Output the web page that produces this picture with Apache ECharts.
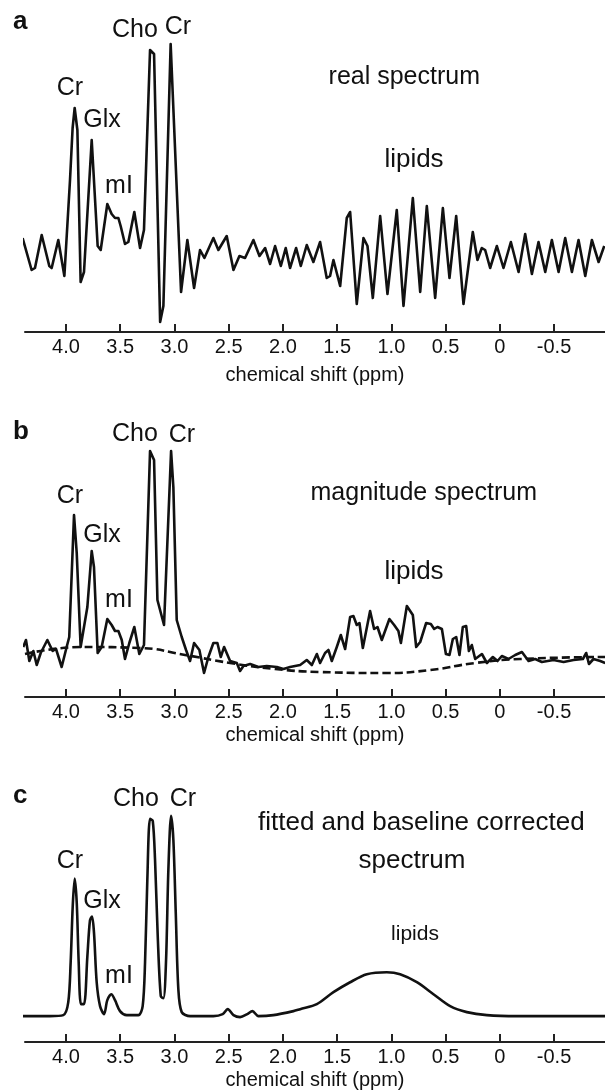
<!DOCTYPE html>
<html>
<head>
<meta charset="utf-8">
<script src="https://cdn.jsdelivr.net/npm/echarts@6/dist/echarts.min.js"></script>
<style>
  html, body { margin: 0; padding: 0; background: #fff; }
  #chart { width: 605px; height: 1091px; }
</style>
</head>
<body>
<div id="chart"></div>
<script>
// x axis: chemical shift (ppm), drawn high -> low
const tickValues = [4.0, 3.5, 3.0, 2.5, 2.0, 1.5, 1.0, 0.5, 0, -0.5];

// (a) real spectrum  [ppm, intensity]
const realSpectrum = [
  [4.400, 0.01], [4.317, -0.15], [4.286, -0.14], [4.224, 0.025], [4.154, -0.13], [4.132, -0.14],
  [4.071, 0.0], [4.015, -0.18], [3.963, 0.30], [3.939, 0.56], [3.920, 0.66], [3.895, 0.55],
  [3.865, -0.21], [3.834, -0.16], [3.763, 0.50], [3.708, -0.03], [3.680, -0.05], [3.619, 0.18],
  [3.579, 0.13], [3.548, 0.11], [3.517, 0.11], [3.496, 0.07], [3.456, -0.02], [3.425, -0.01],
  [3.370, 0.14], [3.317, -0.04], [3.281, 0.05], [3.225, 0.95], [3.188, 0.93], [3.132, -0.41],
  [3.102, -0.33], [3.035, 0.98], [2.939, -0.26], [2.881, 0.00], [2.819, -0.24], [2.764, -0.05],
  [2.724, -0.09], [2.641, 0.01], [2.595, -0.05], [2.518, 0.02], [2.456, -0.15], [2.401, -0.08],
  [2.349, -0.09], [2.272, 0.0], [2.216, -0.08], [2.164, -0.04], [2.118, -0.12], [2.072, -0.03],
  [2.019, -0.13], [1.974, -0.04], [1.934, -0.14], [1.878, -0.04], [1.835, -0.13], [1.780, -0.025],
  [1.719, -0.11], [1.657, -0.01], [1.596, -0.19], [1.565, -0.18], [1.534, -0.10], [1.472, -0.23],
  [1.411, 0.11], [1.380, 0.14], [1.319, -0.32], [1.257, 0.01], [1.220, -0.03], [1.171, -0.29],
  [1.103, 0.12], [1.036, -0.27], [0.950, 0.15], [0.888, -0.33], [0.802, 0.21], [0.734, -0.26],
  [0.673, 0.17], [0.596, -0.29], [0.525, 0.16], [0.464, -0.19], [0.402, 0.12], [0.335, -0.32],
  [0.249, 0.04], [0.206, -0.10], [0.166, -0.04], [0.135, -0.05], [0.089, -0.14], [0.027, -0.03],
  [-0.034, -0.14], [-0.102, -0.01], [-0.173, -0.16], [-0.234, 0.03], [-0.296, -0.17], [-0.357, -0.01],
  [-0.419, -0.16], [-0.480, 0.00], [-0.542, -0.16], [-0.603, 0.01], [-0.665, -0.16], [-0.726, 0.00],
  [-0.788, -0.18], [-0.849, 0.00], [-0.911, -0.11], [-0.963, -0.03]
];

// (b) magnitude spectrum
const magnitudeSpectrum = [
  [4.394, 0.25], [4.369, 0.285], [4.338, 0.18], [4.301, 0.23], [4.270, 0.16], [4.233, 0.22],
  [4.172, 0.285], [4.123, 0.23], [4.092, 0.24], [4.040, 0.15], [3.994, 0.25], [3.970, 0.30],
  [3.926, 0.91], [3.901, 0.72], [3.865, 0.25], [3.803, 0.45], [3.763, 0.73], [3.742, 0.65],
  [3.708, 0.22], [3.671, 0.25], [3.619, 0.39], [3.579, 0.36], [3.548, 0.33], [3.517, 0.33],
  [3.486, 0.285], [3.456, 0.19], [3.416, 0.27], [3.370, 0.35], [3.324, 0.215], [3.281, 0.26],
  [3.225, 1.23], [3.188, 1.185], [3.157, 0.485], [3.096, 0.36], [3.031, 1.23], [3.010, 1.05],
  [2.979, 0.385], [2.933, 0.30], [2.893, 0.235], [2.856, 0.18], [2.819, 0.27], [2.770, 0.235],
  [2.727, 0.12], [2.687, 0.20], [2.641, 0.27], [2.604, 0.27], [2.573, 0.20], [2.542, 0.25],
  [2.487, 0.18], [2.425, 0.17], [2.395, 0.13], [2.364, 0.155], [2.302, 0.165], [2.226, 0.15],
  [2.149, 0.155], [2.056, 0.15], [1.995, 0.14], [1.934, 0.15], [1.841, 0.16], [1.780, 0.185],
  [1.733, 0.16], [1.687, 0.215], [1.657, 0.17], [1.611, 0.22], [1.580, 0.235], [1.549, 0.18],
  [1.503, 0.25], [1.466, 0.31], [1.426, 0.24], [1.380, 0.40], [1.350, 0.405], [1.319, 0.36],
  [1.294, 0.37], [1.263, 0.245], [1.196, 0.43], [1.159, 0.34], [1.128, 0.35], [1.088, 0.285],
  [1.018, 0.39], [0.974, 0.36], [0.935, 0.33], [0.912, 0.27], [0.857, 0.455], [0.802, 0.41],
  [0.771, 0.25], [0.734, 0.275], [0.679, 0.37], [0.636, 0.365], [0.605, 0.34], [0.575, 0.35],
  [0.534, 0.34], [0.497, 0.215], [0.464, 0.21], [0.433, 0.29], [0.402, 0.30], [0.372, 0.21],
  [0.341, 0.35], [0.310, 0.355], [0.285, 0.23], [0.258, 0.26], [0.227, 0.19], [0.165, 0.215],
  [0.119, 0.17], [0.064, 0.20], [0.021, 0.18], [-0.019, 0.205], [-0.080, 0.19], [-0.142, 0.21],
  [-0.204, 0.225], [-0.265, 0.18], [-0.326, 0.19], [-0.388, 0.175], [-0.495, 0.185], [-0.588, 0.175],
  [-0.680, 0.185], [-0.766, 0.19], [-0.797, 0.22], [-0.822, 0.165], [-0.864, 0.19], [-0.926, 0.18],
  [-0.972, 0.17]
];

// (b) estimated baseline (dashed)
const baselineCurve = [
  [4.378, 0.215], [3.843, 0.25], [3.317, 0.245], [2.902, 0.21], [2.487, 0.17], [2.072, 0.14],
  [1.657, 0.125], [1.06, 0.12], [0.642, 0.135], [0.227, 0.17], [-0.188, 0.19], [-0.97, 0.20]
];

// (c) fitted and baseline corrected spectrum
const fittedSpectrum = [
  [4.400, 0.13], [4.148, 0.13], [4.025, 0.135], [3.979, 0.20], [3.957, 0.40], [3.938, 0.68],
  [3.920, 0.82], [3.901, 0.70], [3.883, 0.40], [3.862, 0.19], [3.834, 0.19], [3.803, 0.43],
  [3.779, 0.61], [3.760, 0.63], [3.742, 0.55], [3.717, 0.30], [3.686, 0.18], [3.649, 0.14],
  [3.619, 0.21], [3.582, 0.24], [3.548, 0.21], [3.502, 0.155], [3.440, 0.135], [3.333, 0.135],
  [3.293, 0.18], [3.271, 0.40], [3.250, 0.815], [3.225, 1.12], [3.200, 1.11], [3.179, 0.915],
  [3.154, 0.53], [3.126, 0.23], [3.102, 0.22], [3.078, 0.40], [3.056, 0.865], [3.031, 1.135],
  [3.010, 1.015], [2.988, 0.65], [2.964, 0.265], [2.933, 0.15], [2.856, 0.13], [2.641, 0.13],
  [2.555, 0.14], [2.509, 0.165], [2.456, 0.135], [2.395, 0.125], [2.328, 0.14], [2.281, 0.155],
  [2.226, 0.13], [2.088, 0.135], [1.903, 0.155], [1.841, 0.165], [1.687, 0.19], [1.534, 0.25],
  [1.380, 0.30], [1.226, 0.34], [1.042, 0.35], [0.919, 0.34], [0.765, 0.30], [0.612, 0.24],
  [0.458, 0.18], [0.304, 0.15], [0.119, 0.135], [-0.158, 0.13], [-0.972, 0.13]
];

const FONT = '"Liberation Sans", Arial, Helvetica, sans-serif';
const INK = '#111';

const chart = echarts.init(document.getElementById('chart'), null, { renderer: 'canvas' });

function makeXAxis(idx, nameGap) {
  return {
    type: 'value',
    gridIndex: idx,
    min: -0.97,
    max: 4.378,
    inverse: true,
    name: 'chemical shift (ppm)',
    nameLocation: 'middle',
    nameGap: nameGap,
    nameTextStyle: { fontSize: 20, color: INK, fontFamily: FONT },
    axisLine: { show: true, onZero: false, lineStyle: { color: '#222', width: 2 } },
    axisTick: { show: true, inside: true, length: 8, customValues: tickValues, lineStyle: { color: '#222', width: 2 } },
    axisLabel: {
      customValues: tickValues,
      fontSize: 20,
      color: INK,
      fontFamily: FONT,
      margin: 5,
      formatter: v => (v === 0 ? '0' : v.toFixed(1))
    },
    splitLine: { show: false }
  };
}

function makeYAxis(idx, min, max) {
  return { type: 'value', gridIndex: idx, min: min, max: max, show: false, splitLine: { show: false } };
}

function lineSeries(idx, data, extra) {
  return Object.assign({
    type: 'line',
    xAxisIndex: idx,
    yAxisIndex: idx,
    data: data,
    showSymbol: false,
    clip: false,
    silent: true,
    animation: false,
    lineStyle: { color: INK, width: 2.6, join: 'round' }
  }, extra || {});
}

// annotation text helper
function txt(x, y, text, size, opts) {
  opts = opts || {};
  return {
    type: 'text',
    x: x,
    y: y,
    silent: true,
    style: {
      text: text,
      fill: INK,
      font: (opts.bold ? 'bold ' : '') + size + 'px ' + FONT,
      align: opts.align || 'center',
      verticalAlign: 'middle'
    }
  };
}

const L = 25; // peak label size

const option = {
  backgroundColor: '#fff',
  animation: false,
  grid: [
    { left: 25, right: 0, top: 40, height: 292 },
    { left: 25, right: 0, top: 447, height: 250 },
    { left: 25, right: 0, top: 793, height: 250 }
  ],
  xAxis: [makeXAxis(0, 33), makeXAxis(1, 28), makeXAxis(2, 28)],
  yAxis: [makeYAxis(0, -0.46, 1.0), makeYAxis(1, 0, 1.25), makeYAxis(2, 0, 1.25)],
  series: [
    lineSeries(0, realSpectrum),
    lineSeries(1, baselineCurve, { smooth: 0.5, lineStyle: { color: INK, width: 2.6, type: [8, 4] } }),
    lineSeries(1, magnitudeSpectrum),
    lineSeries(2, fittedSpectrum, { smooth: 0.3 })
  ],
  graphic: [
    // panel a
    txt(13, 22, 'a', 26, { bold: true, align: 'left' }),
    txt(135, 30, 'Cho', L), txt(178, 27, 'Cr', L),
    txt(70, 88, 'Cr', L), txt(102, 120, 'Glx', L), txt(119, 186, 'mI', L),
    txt(480, 77, 'real spectrum', 25, { align: 'right' }),
    txt(414, 160, 'lipids', 26),
    // panel b
    txt(13, 432, 'b', 26, { bold: true, align: 'left' }),
    txt(135, 434, 'Cho', L), txt(182, 435, 'Cr', L),
    txt(70, 496, 'Cr', L), txt(102, 535, 'Glx', L), txt(119, 600, 'mI', L),
    txt(537, 493, 'magnitude spectrum', 25, { align: 'right' }),
    txt(414, 572, 'lipids', 26),
    // panel c
    txt(13, 796, 'c', 26, { bold: true, align: 'left' }),
    txt(136, 799, 'Cho', L), txt(183, 799, 'Cr', L),
    txt(70, 861, 'Cr', L), txt(102, 901, 'Glx', L), txt(119, 976, 'mI', L),
    txt(258, 823, 'fitted and baseline corrected', 26, { align: 'left' }),
    txt(412, 861, 'spectrum', 26),
    txt(415, 934, 'lipids', 21)
  ]
};

chart.setOption(option);
window.addEventListener('resize', () => chart.resize());
</script>
</body>
</html>
